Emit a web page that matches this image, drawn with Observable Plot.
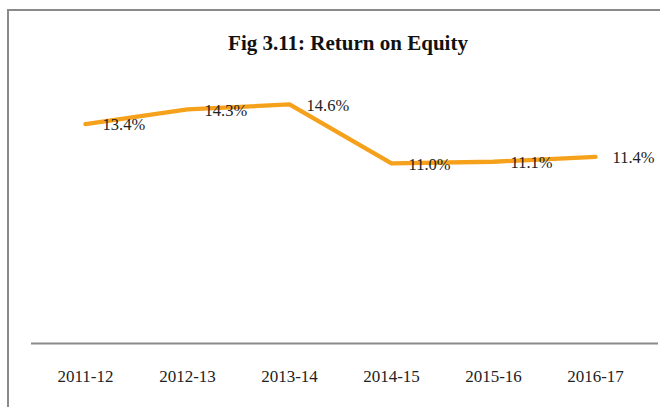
<!DOCTYPE html>
<html>
<head>
<meta charset="utf-8">
<script src="https://cdn.jsdelivr.net/npm/d3@7"></script>
<script src="https://cdn.jsdelivr.net/npm/@observablehq/plot@0.6"></script>
<style>
  html, body { margin: 0; padding: 0; background: #fff; }
  #wrap { position: relative; width: 660px; height: 407px; overflow: hidden; }
  #frame { position: absolute; left: 7px; top: 9px; width: 700px; height: 440px; border: 2px solid #8a8a8a; box-sizing: border-box; }
  #title { position: absolute; left: 0; width: 696px; top: 31px; text-align: center;
           font: bold 21px "Liberation Serif", serif; color: #111; }
  #chart { position: absolute; left: 0; top: 0; }
</style>
</head>
<body>
<div id="wrap">
  <div id="frame"></div>
  <div id="title">Fig 3.11: Return on Equity</div>
  <div id="chart"></div>
</div>
<script>
const years = ["2011-12", "2012-13", "2013-14", "2014-15", "2015-16", "2016-17"];
const roe = [13.4, 14.3, 14.6, 11.0, 11.1, 11.4];

const data = years.map((y, i) => ({year: y, value: roe[i]}));
const serif = "Liberation Serif";

const chart = Plot.plot({
  width: 660,
  height: 407,
  marginTop: 81,
  marginBottom: 64,
  marginLeft: 31,
  marginRight: 12,
  style: {fontFamily: serif, fontSize: "16px", color: "#222", background: "transparent"},
  x: {type: "point", domain: years, padding: 0.5, label: null},
  y: {domain: [0, 16], axis: null},
  marks: [
    Plot.ruleY([0], {stroke: "#8a8a8a", strokeWidth: 2, insetRight: -10}),
    Plot.axisX({tickSize: 0, tickPadding: 26, fontSize: 17, fontFamily: serif, label: null}),
    Plot.line(data, {x: "year", y: "value", stroke: "#F6A11C", strokeWidth: 4.3, strokeLinejoin: "round", strokeLinecap: "round"}),
    Plot.text(data, {x: "year", y: "value", text: d => d.value.toFixed(1) + "%", textAnchor: "start", dx: 17, dy: 1, fontSize: 16.5, fontFamily: serif, fill: "#222"})
  ]
});
document.getElementById("chart").appendChild(chart);
</script>
</body>
</html>
